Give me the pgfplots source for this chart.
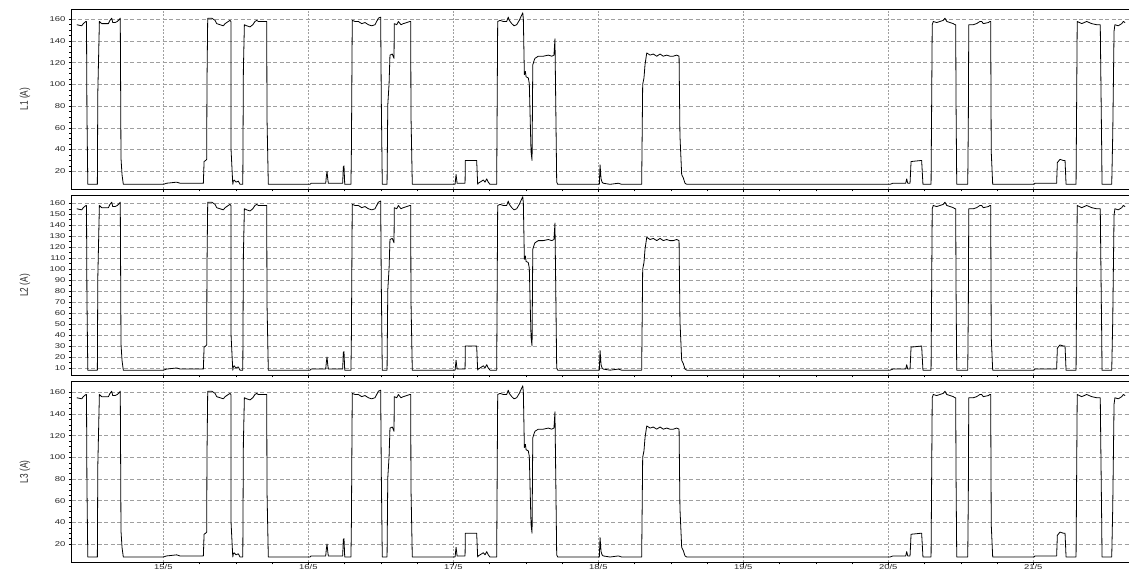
\documentclass[border=0pt]{standalone}
\usepackage{fontspec}
\setmainfont{Liberation Sans}
\newfontfamily\tickfont[FakeStretch=1.35]{Liberation Sans}
\usepackage{pgfplots}
\pgfplotsset{compat=1.18}
\usepackage{pgfplotstable}

% Phase current, one sample per change of load (day of May, ampere)
\pgfplotstableread{
day amp
14.403 155
14.437 154
14.448 156
14.466 158
14.470 158
14.473 76
14.479 8
14.545 8
14.548 92
14.559 158
14.575 156
14.598 156
14.621 156
14.632 159
14.644 161
14.651 157
14.667 157
14.683 158
14.697 160
14.703 161
14.708 32
14.715 17
14.724 8
15.000 8
15.023 9
15.092 10
15.115 9
15.276 9
15.281 29
15.292 30
15.299 31
15.301 101
15.306 161
15.334 161
15.357 159
15.368 156
15.391 155
15.414 154
15.426 156
15.448 158
15.460 159
15.466 158
15.467 40
15.479 8
15.483 11
15.488 12
15.501 10
15.517 11
15.529 8
15.548 8
15.549 32
15.552 113
15.559 155
15.575 154
15.598 153
15.617 155
15.632 158
15.644 159
15.655 158
15.679 158
15.701 158
15.713 158
15.715 69
15.724 8
16.012 8
16.019 9
16.120 9
16.124 15
16.129 20
16.134 13
16.138 9
16.237 9
16.241 24
16.246 25
16.251 8
16.294 8
16.297 38
16.303 159
16.322 158
16.345 158
16.368 156
16.391 157
16.414 155
16.437 154
16.460 155
16.483 161
16.499 162
16.503 89
16.510 8
16.543 8
16.548 81
16.557 101
16.563 127
16.579 128
16.591 124
16.593 156
16.610 155
16.621 158
16.639 155
16.655 156
16.679 157
16.701 158
16.706 158
16.708 72
16.717 8
17.012 8
17.019 17
17.026 9
17.081 9
17.083 30
17.161 30
17.168 8
17.172 9
17.196 11
17.207 12
17.219 10
17.230 13
17.241 10
17.253 8
17.299 8
17.306 158
17.322 159
17.345 158
17.368 158
17.379 162
17.386 159
17.403 156
17.419 154
17.437 155
17.455 159
17.472 164
17.479 166
17.483 160
17.490 109
17.497 112
17.502 107
17.517 106
17.524 101
17.536 38
17.543 30
17.548 118
17.557 122
17.563 124
17.586 126
17.621 126
17.655 127
17.679 126
17.694 127
17.701 142
17.713 10
17.720 8
18.007 8
18.012 26
18.019 13
18.026 10
18.034 9
18.081 8
18.138 9
18.161 8
18.299 8
18.306 100
18.315 106
18.322 118
18.334 129
18.357 127
18.379 128
18.403 126
18.426 128
18.448 126
18.472 127
18.494 126
18.517 126
18.541 127
18.557 126
18.563 53
18.575 17
18.586 14
18.598 9
18.610 8
20.012 8
20.032 9
20.120 9
20.127 13
20.134 9
20.150 9
20.157 29
20.230 30
20.239 8
20.295 8
20.303 155
20.310 158
20.334 157
20.356 158
20.379 159
20.391 161
20.403 158
20.426 157
20.448 156
20.460 155
20.465 155
20.467 87
20.472 8
20.548 8
20.552 66
20.555 155
20.586 155
20.609 156
20.632 158
20.644 158
20.655 156
20.690 157
20.701 158
20.706 158
20.710 38
20.720 8
21.005 8
21.012 9
21.161 9
21.166 28
21.184 31
21.207 30
21.219 30
21.226 8
21.295 8
21.303 158
21.334 156
21.368 158
21.403 156
21.437 155
21.455 155
21.462 155
21.465 118
21.472 38
21.474 8
21.541 8
21.548 54
21.557 149
21.563 155
21.586 154
21.610 156
21.621 158
21.633 157
}\phasecurrent

\pgfplotsset{
  panel/.style={
    scale only axis, anchor=north west, width=1058.3pt,
    xmin=14.368, xmax=21.667,
    xtick={15,...,21}, minor x tick num=3,
    xtick pos=bottom, ytick pos=left,
    tick align=outside, major tick length=3.2pt, minor tick length=2.4pt,
    every tick/.style={black, line width=0.5pt},
    axis line style={line width=0.9pt},
    xmajorgrids, ymajorgrids,
    major x grid style={gray!75, line width=0.5pt, dash pattern=on 2pt off 1.6pt},
    major y grid style={gray!75, line width=0.5pt, dash pattern=on 4pt off 2.5pt},
    /pgf/number format/assume math mode=true,
    ticklabel style={font=\tickfont\fontsize{7}{8}\selectfont, text=black!85},
    yticklabel style={xshift=0.5pt},
    xticklabel style={inner sep=0pt, yshift=1.4pt},
    every axis y label/.style={at={(axis description cs:-0.0441,0.5)},
      anchor=center, rotate=90, yscale=1.35,
      font=\fontsize{8.3}{9}\selectfont, text=black!85},
  },
  curve/.style={black, line width=0.8pt, line join=round, mark=none},
}

\begin{document}
\begin{tikzpicture}
\begin{axis}[panel, at={(71.7pt,-9.3pt)}, height=179.7pt,
  ymin=3.7, ymax=169.2, ytick={20,40,...,160}, minor y tick num=3,
  xticklabels={}, ylabel={L1 (A)}]
  \addplot[curve] table[x=day, y=amp] {\phasecurrent};
\end{axis}
\begin{axis}[panel, at={(71.7pt,-195.7pt)}, height=179.3pt,
  ymin=3.6, ymax=166.9, ytick={10,20,...,160}, minor y tick num=1,
  xticklabels={}, ylabel={L2 (A)}]
  \addplot[curve] table[x=day, y=amp] {\phasecurrent};
\end{axis}
\begin{axis}[panel, at={(71.7pt,-381.7pt)}, height=180.3pt,
  ymin=3.4, ymax=169.8, ytick={20,40,...,160}, minor y tick num=3,
  xticklabels={15/5,16/5,17/5,18/5,19/5,20/5,21/5}, ylabel={L3 (A)}]
  \addplot[curve] table[x=day, y=amp] {\phasecurrent};
\end{axis}
\pgfresetboundingbox
\path[use as bounding box] (0pt,0pt) rectangle (1129pt,-572pt);
\end{tikzpicture}
\end{document}
